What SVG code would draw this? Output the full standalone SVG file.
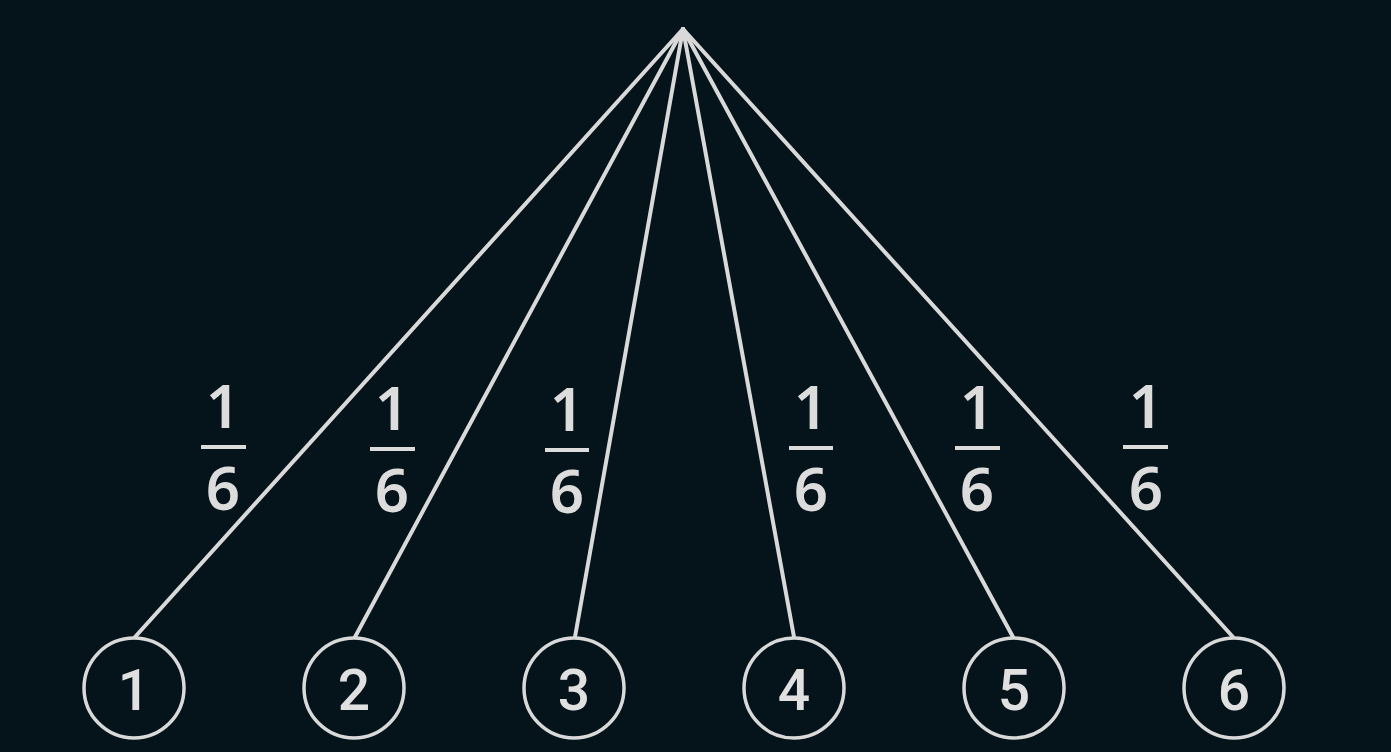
<svg xmlns="http://www.w3.org/2000/svg" width="1391" height="752" viewBox="0 0 1391 752">
<style>
.bg{fill:#04141a}
.edge{stroke:#d9d9d9;stroke-width:4;fill:none;stroke-linecap:round}
.node circle{fill:none;stroke:#d9d9d9;stroke-width:3.5}
.node text{fill:#e0e0e0;font-family:Roboto,"Liberation Sans",sans-serif;font-size:57px;font-weight:500;text-anchor:middle}
.frac text{fill:#dcdcdc;font-family:"Noto Sans","Open Sans",sans-serif;font-size:60px;font-weight:600;text-anchor:middle}
.frac line{stroke:#dcdcdc;stroke-width:4}
</style>
<rect class="bg" x="0" y="0" width="1391" height="752"/>
<g id="connectors">
<path class="edge" d="M683,29 L135,637"/>
<path class="edge" d="M683,29 L355,637"/>
<path class="edge" d="M683,29 L575,637"/>
<path class="edge" d="M683,29 L794,637"/>
<path class="edge" d="M683,29 L1013,637"/>
<path class="edge" d="M683,29 L1233,637"/>
<g class="frac">
<text x="223" y="428">1</text><line x1="201" y1="447" x2="246" y2="447"/><text x="223" y="510">6</text>
<text x="392" y="430">1</text><line x1="370" y1="449" x2="415" y2="449"/><text x="392" y="512">6</text>
<text x="567" y="431">1</text><line x1="545" y1="450" x2="589" y2="450"/><text x="567" y="513">6</text>
<text x="811" y="429">1</text><line x1="789" y1="448" x2="833" y2="448"/><text x="811" y="511">6</text>
<text x="977" y="429">1</text><line x1="955" y1="448" x2="1000" y2="448"/><text x="977" y="511">6</text>
<text x="1146" y="428">1</text><line x1="1123" y1="447" x2="1168" y2="447"/><text x="1146" y="510">6</text>
</g>
</g>
<g id="n1" class="node"><circle cx="134" cy="688" r="50"/><text x="134" y="710">1</text></g>
<g id="n2" class="node"><circle cx="354" cy="688" r="50"/><text x="354" y="710">2</text></g>
<g id="n3" class="node"><circle cx="574" cy="688" r="50"/><text x="574" y="710">3</text></g>
<g id="n4" class="node"><circle cx="794" cy="688" r="50"/><text x="794" y="710">4</text></g>
<g id="n5" class="node"><circle cx="1014" cy="688" r="50"/><text x="1014" y="710">5</text></g>
<g id="n6" class="node"><circle cx="1234" cy="688" r="50"/><text x="1234" y="710">6</text></g>
</svg>
